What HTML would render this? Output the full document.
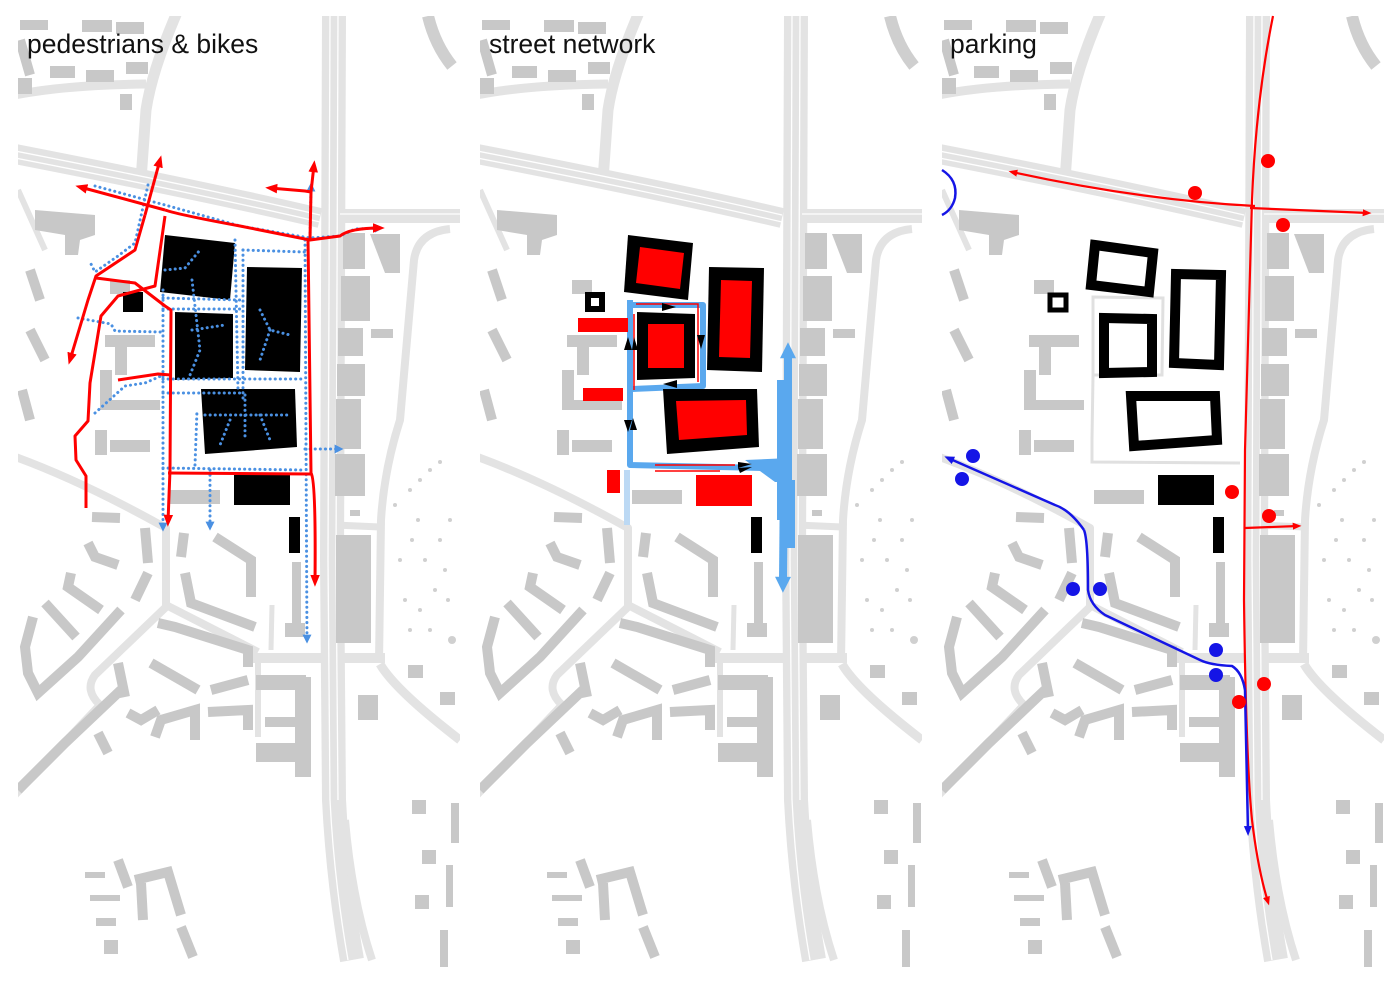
<!DOCTYPE html>
<html><head><meta charset="utf-8">
<style>
html,body{margin:0;padding:0;background:#fff;}
svg{display:block;}
text{font-family:"Liberation Sans",sans-serif;font-size:26.5px;fill:#111;}
</style></head><body>
<svg width="1400" height="990" viewBox="0 0 1400 990" xmlns="http://www.w3.org/2000/svg">
<defs>
<marker id="ar" viewBox="0 0 10 10" refX="6" refY="5" markerWidth="4" markerHeight="4" orient="auto" markerUnits="strokeWidth"><path d="M0,1 L10,5 L0,9 Z" fill="#f00"/></marker>
<marker id="ab" viewBox="0 0 10 10" refX="6" refY="5" markerWidth="9" markerHeight="9" orient="auto" markerUnits="userSpaceOnUse" ><path d="M0,0 L10,5 L0,10 Z" fill="#4a90e2"/></marker>
<marker id="ablue" viewBox="0 0 10 10" refX="6" refY="5" markerWidth="4" markerHeight="4" orient="auto" markerUnits="strokeWidth"><path d="M0,1 L10,5 L0,9 Z" fill="#1515e6"/></marker>
<marker id="alb" viewBox="0 0 10 10" refX="2" refY="5" markerWidth="18" markerHeight="16" orient="auto" markerUnits="userSpaceOnUse"><path d="M0,0 L10,5 L0,10 Z" fill="#5aa8ee"/></marker>
<symbol id="base" viewBox="0 0 442 952" width="442" height="952">
<g transform="translate(-18,-16)">
<g fill="none" stroke="#e3e3e3" stroke-linecap="butt" stroke-linejoin="round">
<path d="M334,16 L332,560 L334,800 Q338,880 352,960" stroke-width="24"/>
<path d="M345,820 Q352,900 372,960" stroke-width="8"/>
<path d="M10,153 Q200,190 320,218" stroke-width="20"/>
<path d="M334,216 L460,216" stroke-width="14"/>
<path d="M178,10 Q152,70 146,110 L141,180" stroke-width="11"/>
<path d="M10,96 Q60,85 146,84" stroke-width="9"/>
<path d="M450,229 Q418,232 414,260 L400,420 Q384,470 381,520 L379,662" stroke-width="8"/>
<path d="M335,525 L380,527" stroke-width="7"/>
<path d="M250,658 L385,658" stroke-width="10"/>
<path d="M380,664 Q395,690 460,740" stroke-width="9"/>
<path d="M10,455 Q80,480 166,528 L166,605 L258,652" stroke-width="8"/>
<path d="M166,607 L95,675 Q84,690 100,705" stroke-width="8"/>
<path d="M100,705 L10,800" stroke-width="8"/>
<path d="M258,657 L258,737" stroke-width="6"/>
<path d="M272,605 L271,650" stroke-width="5"/>
<path d="M18,190 L45,250" stroke-width="6"/>
<path d="M428,16 Q435,45 452,66" stroke-width="12" stroke="#cfcfcf"/>
</g>
<g fill="none" stroke="#fff" stroke-width="1.3">
<path d="M330,16 L328,560 L330,800 Q334,880 348,960"/>
<path d="M338,16 L336,560 L338,800"/>
<path d="M10,150 Q200,187 320,215"/>
<path d="M10,157 Q200,194 320,222"/>
<path d="M340,214 L460,214"/>
</g>
<g fill="#c8c8c8">
<rect x="20" y="20" width="28" height="10"/><rect x="82" y="20" width="30" height="12"/><rect x="116" y="22" width="28" height="12"/>
<rect x="50" y="66" width="25" height="12"/><rect x="86" y="70" width="28" height="12"/><rect x="126" y="62" width="22" height="12"/>
<rect x="120" y="94" width="12" height="16"/><rect x="18" y="78" width="14" height="16"/>
<path d="M35,210 L95,215 L95,235 L80,240 L78,255 L65,255 L65,235 L35,230 Z"/>
<rect x="343" y="233" width="22" height="36"/><path d="M370,234 L400,234 L400,273 L385,273 Z"/>
<rect x="341" y="276" width="29" height="45"/><rect x="371" y="329" width="22" height="9"/>
<rect x="338" y="328" width="25" height="28"/><rect x="337" y="364" width="28" height="32"/>
<rect x="336" y="399" width="25" height="50"/><rect x="335" y="454" width="30" height="42"/>
<rect x="336" y="535" width="35" height="108"/><rect x="350" y="510" width="10" height="6"/>
<rect x="408" y="665" width="15" height="13"/><rect x="358" y="695" width="20" height="25"/><rect x="440" y="692" width="15" height="13"/>
<rect x="256" y="675" width="50" height="15"/><rect x="295" y="677" width="16" height="100"/><rect x="256" y="743" width="55" height="19"/><rect x="265" y="717" width="30" height="10"/>
<rect x="292" y="562" width="9" height="75"/><rect x="285" y="623" width="20" height="14"/>
<rect x="170" y="490" width="50" height="14"/><rect x="110" y="280" width="20" height="14"/>
<rect x="105" y="335" width="50" height="12"/><rect x="100" y="370" width="12" height="40"/><rect x="115" y="345" width="12" height="30"/>
<rect x="95" y="430" width="12" height="25"/><rect x="105" y="400" width="55" height="10"/><rect x="110" y="440" width="40" height="12"/>
<rect x="451" y="803" width="8" height="40"/><rect x="446" y="865" width="7" height="42"/><rect x="440" y="930" width="8" height="37"/>
<rect x="412" y="800" width="14" height="14"/><rect x="422" y="850" width="14" height="14"/><rect x="415" y="895" width="14" height="14"/>
<rect x="85" y="872" width="20" height="6"/><rect x="90" y="895" width="30" height="6"/><rect x="96" y="918" width="20" height="8"/><rect x="104" y="940" width="14" height="14"/>
</g>
<g fill="none" stroke="#c8c8c8" stroke-width="10" stroke-linejoin="miter">
<path d="M92,517 L120,518"/><path d="M145,528 L148,563"/><path d="M88,543 L95,557 L118,565"/>
<path d="M71,573 L68,587 L101,610"/><path d="M148,573 L135,600"/><path d="M45,603 L76,637"/>
<path d="M33,617 L25,647 L28,673 L38,693 L78,657 L121,610"/><path d="M184,533 L181,557"/>
<path d="M215,537 L251,560 L251,597"/><path d="M185,573 L191,603 L255,627"/>
<path d="M158,623 L175,627 L248,650 L248,667"/><path d="M118,663 L125,697"/>
<path d="M128,713 L141,720 L158,710"/><path d="M155,737 L161,720 L195,710 L195,740"/>
<path d="M208,712 L248,710 L248,730"/><path d="M151,663 L198,690"/><path d="M211,690 L248,680"/>
<path d="M18,790 L65,743 L121,690"/><path d="M98,733 L108,753"/>
<path d="M118,860 L128,887"/><path d="M135,880 L168,872 L181,915"/><path d="M141,883 L143,920"/><path d="M181,927 L193,957"/>
<path d="M20,40 L30,75"/><path d="M30,270 L40,300"/><path d="M30,330 L45,360"/><path d="M22,390 L30,420"/>
</g>
<g fill="#d0d0d0">
<circle cx="395" cy="505" r="2"/><circle cx="410" cy="490" r="2"/><circle cx="420" cy="480" r="2"/><circle cx="430" cy="470" r="2"/><circle cx="440" cy="462" r="2"/>
<circle cx="400" cy="560" r="2"/><circle cx="412" cy="540" r="2"/><circle cx="425" cy="560" r="2"/><circle cx="440" cy="540" r="2"/><circle cx="450" cy="520" r="2"/>
<circle cx="405" cy="600" r="2"/><circle cx="420" cy="610" r="2"/><circle cx="435" cy="590" r="2"/><circle cx="448" cy="600" r="2"/><circle cx="430" cy="630" r="2"/>
<circle cx="410" cy="630" r="2"/><circle cx="445" cy="570" r="2"/><circle cx="418" cy="520" r="2"/><circle cx="452" cy="640" r="4"/>
</g>
</g>
</symbol>
</defs>

<use href="#base" x="18" y="16"/>
<use href="#base" x="480" y="16"/>
<use href="#base" x="942" y="16"/>

<!-- PANEL 1 -->
<g fill="#000">
<path d="M165,235 L235,243 L230,300 L160,292 Z"/>
<path d="M247,267 L302,268 L300,372 L245,370 Z"/>
<path d="M175,312 L233,314 L233,378 L175,380 Z"/>
<path d="M201,389 L295,389 L297,447 L205,454 Z"/>
<rect x="234" y="475" width="56" height="30"/>
<rect x="289" y="517" width="11" height="36"/>
<rect x="123" y="292" width="20" height="20"/>
</g>
<g fill="none" stroke="#4a90e2" stroke-width="3" stroke-linecap="round" stroke-dasharray="0.1 5">
<path d="M95,186 L165,205 L240,226 L310,238 L340,236 L355,229 L380,228" marker-end="url(#ab)"/>
<path d="M310,238 L311,186" marker-end="url(#ab)"/>
<path d="M148,185 L141,216 L135,243 L118,256 L95,272 L90,262"/>
<path d="M163,290 L163,528" marker-end="url(#ab)"/>
<path d="M305,240 L307,640" marker-end="url(#ab)"/>
<path d="M163,298 L240,300"/><path d="M163,309 L240,309"/>
<path d="M163,379 L305,379"/><path d="M163,393 L240,393"/>
<path d="M163,468 L305,470"/><path d="M305,449 L340,449" marker-end="url(#ab)"/>
<path d="M235,240 L238,390"/><path d="M243,250 L243,400"/>
<path d="M243,250 L305,252"/>
<path d="M78,318 L111,324 L115,331 L161,332"/>
<path d="M95,413 L125,386 L145,383 L161,376"/>
<path d="M210,470 L210,527" marker-end="url(#ab)"/>
<path d="M195,465 L197,410"/><path d="M165,270 L185,268 L200,250"/>
<path d="M192,280 L200,350 L190,375"/><path d="M192,330 L225,325"/>
<path d="M260,310 L270,330 L290,335"/><path d="M270,330 L260,360"/>
<path d="M205,415 L290,415"/><path d="M245,395 L245,440"/><path d="M230,420 L220,445"/><path d="M260,415 L270,440"/>
</g>
<g fill="none" stroke="#f00" stroke-width="3" stroke-linejoin="round">
<path d="M165,210 L80,187" marker-end="url(#ar)"/>
<path d="M165,210 Q180,215 240,226 L310,240 L340,236 Q350,228 380,228" marker-end="url(#ar)"/>
<path d="M145,215 L160,160" marker-end="url(#ar)"/>
<path d="M145,215 L135,250 L96,276 L88,300 L70,360" marker-end="url(#ar)"/>
<path d="M96,278 L135,283 L165,306 L171,310 L170,470 L168,522" marker-end="url(#ar)"/>
<path d="M165,216 L155,286 L118,296 L101,316 L90,383 L88,421 L75,436 L76,460 L86,476 L86,508"/>
<path d="M308,239 L311,473 Q316,480 315,582" marker-end="url(#ar)"/>
<path d="M310,239 L311,192 L305,191 L270,188" marker-end="url(#ar)"/>
<path d="M311,192 L314,165" marker-end="url(#ar)"/>
<path d="M168,473 L311,474"/>
<path d="M118,380 L158,374 L171,375"/>
</g>
<text x="27" y="53">pedestrians &amp; bikes</text>

<!-- PANEL 2 -->
<g fill="none" stroke="#5aa8ee" stroke-width="6" stroke-linejoin="round">
<path d="M630,300 L630,465 L765,468"/>
<path d="M630,305 L703,305 L703,386 L632,389"/>
</g>
<path d="M627,470 L627,525" stroke="#bcd9f4" stroke-width="6"/>
<path d="M745,460 L790,458 L790,482 L775,482 Z" fill="#5aa8ee"/>
<rect x="777" y="380" width="7" height="140" fill="#5aa8ee"/>
<path d="M788,520 L788,355" fill="none" stroke="#5aa8ee" stroke-width="8" marker-end="url(#alb)"/>
<path d="M784,470 L783,580" fill="none" stroke="#5aa8ee" stroke-width="8" marker-end="url(#alb)"/>
<rect x="785" y="480" width="10" height="68" fill="#5aa8ee"/>
<g fill="none" stroke="#f00" stroke-width="1.5">
<path d="M636,304 L698,304 L698,382"/><path d="M634,314 L634,390"/>
<path d="M655,465 L735,465"/><path d="M655,471 L720,471"/>
</g>
<g fill="#000">
<path d="M628,235 L693,243 L688,300 L624,292 Z"/>
<path d="M709,267 L764,268 L762,372 L707,370 Z"/>
<path d="M637,312 L695,314 L695,378 L637,380 Z"/>
<path d="M663,389 L757,389 L759,447 L667,454 Z"/>
<rect x="751" y="517" width="11" height="36"/>
<rect x="585" y="292" width="20" height="20"/>
</g>
<rect x="591" y="298" width="8" height="8" fill="#fff"/>
<g fill="#f00">
<path d="M640,247 L684,253 L680,289 L636,283 Z"/>
<path d="M721,280 L752,281 L750,358 L719,357 Z"/>
<path d="M648,324 L684,324 L684,368 L648,368 Z"/>
<path d="M676,401 L746,400 L747,435 L679,440 Z"/>
<rect x="578" y="318" width="50" height="14"/>
<rect x="583" y="388" width="40" height="13"/>
<rect x="607" y="470" width="13" height="23"/>
<rect x="696" y="475" width="56" height="31"/>
</g>
<g fill="#000">
<path d="M662,303 L676,307 L662,311 Z"/>
<path d="M697,335 L705,335 L701,349 Z"/>
<path d="M663,384 L677,380 L677,388 Z"/>
<path d="M624,350 L632,350 L628,337 Z"/><path d="M632,350 L638,350 L634,337 Z"/>
<path d="M624,420 L632,420 L628,432 Z"/><path d="M630,430 L637,430 L633,418 Z"/>
<path d="M738,462 L752,464 L738,468 Z"/><path d="M738,468 L752,467 L740,473 Z"/>
</g>
<text x="489" y="53">street network</text>

<!-- PANEL 3 -->
<g fill="none" stroke="#e0e0e0" stroke-width="3">
<path d="M1093,297 L1163,298 L1162,375 L1093,375 Z"/>
<path d="M1093,375 L1092,440 L1092,462 L1240,463"/>
</g>
<g fill="none" stroke="#000" stroke-width="10">
<path d="M1095,245 L1153,253 L1149,292 L1091,285 Z"/>
<path d="M1176,274 L1221,275 L1219,365 L1174,363 Z"/>
<path d="M1104,318 L1152,319 L1152,372 L1104,373 Z"/>
<path d="M1131,396 L1215,396 L1217,440 L1134,446 Z"/>
</g>
<rect x="1050" y="295" width="16" height="15" fill="none" stroke="#000" stroke-width="5"/>
<rect x="1158" y="475" width="56" height="30" fill="#000"/>
<rect x="1213" y="517" width="11" height="36" fill="#000"/>
<g fill="none" stroke="#f00" stroke-width="2.2">
<path d="M1255,206 Q1140,200 1012,172" marker-end="url(#ar)"/>
<path d="M1250,208 L1368,213" marker-end="url(#ar)"/>
<path d="M1273,16 Q1256,100 1252,200 L1245,450 L1244,600 Q1246,760 1252,820 Q1258,870 1268,902" marker-end="url(#ar)"/>
<path d="M1245,528 L1298,526" marker-end="url(#ar)"/>
</g>
<g fill="none" stroke="#1515e6" stroke-width="2.5" stroke-linejoin="round">
<path d="M942,170 Q958,180 955,198 Q952,210 942,215"/>
<path d="M1084,530 Q1070,510 1055,505 L948,458" marker-end="url(#ablue)"/>
<path d="M1084,530 Q1088,540 1088,590 Q1090,605 1105,615 L1200,660 Q1210,665 1232,666 Q1242,672 1245,690 L1248,832" marker-end="url(#ablue)"/>
</g>
<g fill="#f00">
<circle cx="1268" cy="161" r="7"/><circle cx="1195" cy="193" r="7"/><circle cx="1283" cy="225" r="7"/>
<circle cx="1232" cy="492" r="7"/><circle cx="1269" cy="516" r="7"/><circle cx="1264" cy="684" r="7"/><circle cx="1239" cy="702" r="7"/>
</g>
<g fill="#1515e6">
<circle cx="973" cy="456" r="7"/><circle cx="962" cy="479" r="7"/><circle cx="1073" cy="589" r="7"/>
<circle cx="1100" cy="589" r="7"/><circle cx="1216" cy="650" r="7"/><circle cx="1216" cy="675" r="7"/>
</g>
<text x="950" y="53">parking</text>
</svg>
</body></html>
